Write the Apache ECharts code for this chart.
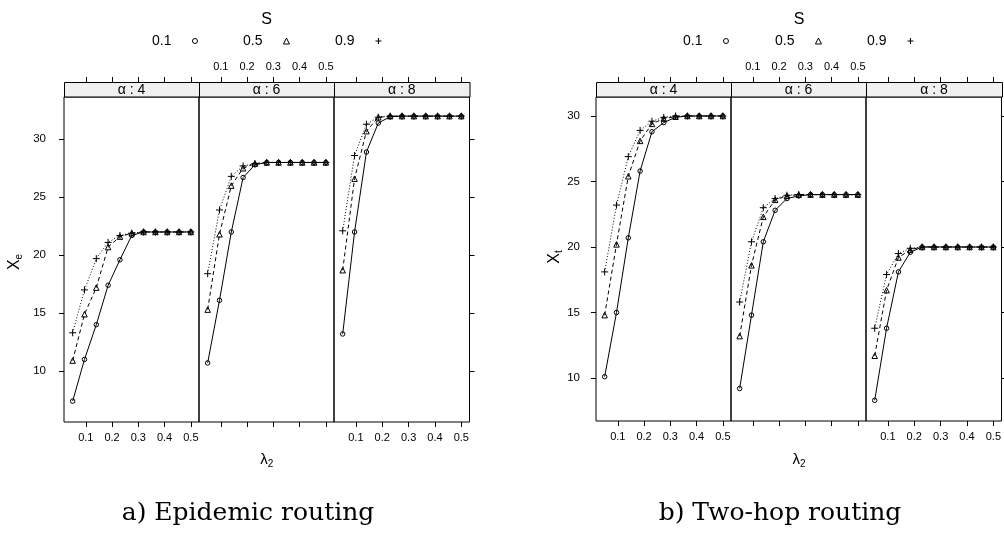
<!DOCTYPE html>
<html><head><meta charset="utf-8">
<script src="https://cdn.jsdelivr.net/npm/echarts@6/dist/echarts.min.js"></script>
<style>html,body{margin:0;padding:0;background:#fff}#c{width:1004px;height:534px}</style>
</head><body><div id="c"></div>
<script>
// ---- data ----
const xVals = [0.05, 0.095, 0.14, 0.185, 0.23, 0.275, 0.32, 0.365, 0.41, 0.455, 0.5];
const alphaLabels = ['α : 4', 'α : 6', 'α : 8'];
const sLevels = ['0.1', '0.5', '0.9'];
const xTicks = [0.1, 0.2, 0.3, 0.4, 0.5];
const yTicks = [10, 15, 20, 25, 30];
const captions = ['a) Epidemic routing', 'b) Two-hop routing'];

// Epidemic routing (X_e)
const e4_s1 = [7.4, 11.0, 14.0, 17.4, 19.6, 21.7, 22.0, 22.0, 22.0, 22.0, 22.0];
const e4_s5 = [10.9, 14.9, 17.2, 20.7, 21.6, 21.9, 22.0, 22.0, 22.0, 22.0, 22.0];
const e4_s9 = [13.3, 17.0, 19.7, 21.1, 21.7, 21.9, 22.0, 22.0, 22.0, 22.0, 22.0];
const e6_s1 = [10.7, 16.1, 22.0, 26.7, 27.8, 28.0, 28.0, 28.0, 28.0, 28.0, 28.0];
const e6_s5 = [15.3, 21.8, 26.0, 27.5, 27.9, 28.0, 28.0, 28.0, 28.0, 28.0, 28.0];
const e6_s9 = [18.4, 23.9, 26.8, 27.7, 27.9, 28.0, 28.0, 28.0, 28.0, 28.0, 28.0];
const e8_s1 = [13.2, 22.0, 28.9, 31.4, 31.95, 32.0, 32.0, 32.0, 32.0, 32.0, 32.0];
const e8_s5 = [18.7, 26.6, 30.7, 31.9, 32.0, 32.0, 32.0, 32.0, 32.0, 32.0, 32.0];
const e8_s9 = [22.1, 28.6, 31.3, 31.9, 32.0, 32.0, 32.0, 32.0, 32.0, 32.0, 32.0];

// Two-hop routing (X_t)
const t4_s1 = [10.1, 15.0, 20.7, 25.8, 28.8, 29.5, 29.9, 30.0, 30.0, 30.0, 30.0];
const t4_s5 = [14.8, 20.2, 25.4, 28.1, 29.4, 29.8, 29.95, 30.0, 30.0, 30.0, 30.0];
const t4_s9 = [18.1, 23.2, 26.9, 28.9, 29.6, 29.9, 30.0, 30.0, 30.0, 30.0, 30.0];
const t6_s1 = [9.2, 14.8, 20.4, 22.8, 23.7, 23.9, 24.0, 24.0, 24.0, 24.0, 24.0];
const t6_s5 = [13.2, 18.6, 22.3, 23.6, 23.9, 24.0, 24.0, 24.0, 24.0, 24.0, 24.0];
const t6_s9 = [15.8, 20.4, 23.0, 23.7, 23.95, 24.0, 24.0, 24.0, 24.0, 24.0, 24.0];
const t8_s1 = [8.3, 13.8, 18.1, 19.6, 20.0, 20.0, 20.0, 20.0, 20.0, 20.0, 20.0];
const t8_s5 = [11.7, 16.7, 19.2, 19.8, 20.0, 20.0, 20.0, 20.0, 20.0, 20.0, 20.0];
const t8_s9 = [13.8, 17.9, 19.5, 19.9, 20.0, 20.0, 20.0, 20.0, 20.0, 20.0, 20.0];

// ---- layout ----
const FONT = 'Liberation Sans';
const X_MIN = 0.017, X_MAX = 0.531;
const charts = [
  { panels: [[e4_s1, e4_s5, e4_s9], [e6_s1, e6_s5, e6_s9], [e8_s1, e8_s5, e8_s9]],
    lefts: [64, 199, 334], widths: [135, 135, 135.5], top: 97, height: 325,
    yMin: 5.6, yMax: 33.65, yName: 'e', yNameX: 15, yNameY: 262, labelMargin: 18,
    legendX: [152, 243, 335], legendTop: 34, sX: 266.5, captionX: 248 },
  { panels: [[t4_s1, t4_s5, t4_s9], [t6_s1, t6_s5, t6_s9], [t8_s1, t8_s5, t8_s9]],
    lefts: [596, 731, 866], widths: [135, 135, 136], top: 97, height: 324,
    yMin: 6.72, yMax: 31.45, yName: 't', yNameX: 555, yNameY: 257, labelMargin: 16,
    legendX: [683, 775, 867], legendTop: 34, sX: 799, captionX: 780 }
];
const seriesStyles = [
  { symbol: 'circle', symbolSize: 4.5, dash: 'solid' },
  { symbol: 'triangle', symbolSize: 5.5, dash: [4, 3] },
  { symbol: 'path://M5,0L5,10M0,5L10,5', symbolSize: 7, dash: [1, 2] }
];
const legendIcons = [
  { icon: 'circle', size: 5 },
  { icon: 'triangle', size: 6 },
  { icon: 'path://M5,0L5,10M0,5L10,5', size: 6 }
];

const grid = [], xAxis = [], yAxis = [], series = [], graphic = [], legend = [];
charts.forEach((ch, ci) => {
  ch.panels.forEach((panel, p) => {
    const g = grid.length;
    grid.push({ left: ch.lefts[p], top: ch.top, width: ch.widths[p], height: ch.height,
      show: true, borderColor: '#000', borderWidth: 1, backgroundColor: 'transparent' });
    const tickStyle = { show: true, length: 5, inside: false, customValues: xTicks, lineStyle: { color: '#000', width: 1 } };
    xAxis.push({ gridIndex: g, type: 'value', min: X_MIN, max: X_MAX, position: 'bottom',
      axisLine: { show: false }, splitLine: { show: false }, axisTick: tickStyle,
      axisLabel: { show: p !== 1, customValues: xTicks, fontSize: 11, fontFamily: FONT, color: '#000', margin: 10,
        formatter: v => v.toFixed(1) } });
    xAxis.push({ gridIndex: g, type: 'value', min: X_MIN, max: X_MAX, position: 'top', offset: 15,
      axisLine: { show: false }, splitLine: { show: false }, axisTick: tickStyle,
      axisLabel: { show: p === 1, customValues: xTicks, fontSize: 11, fontFamily: FONT, color: '#000', margin: 10,
        formatter: v => v.toFixed(1) } });
    yAxis.push({ gridIndex: g, type: 'value', min: ch.yMin, max: ch.yMax, position: p === 2 ? 'right' : 'left',
      axisLine: { show: false }, splitLine: { show: false },
      axisTick: { show: p !== 1, length: 5, customValues: yTicks, lineStyle: { color: '#000', width: 1 } },
      axisLabel: { show: p === 0, customValues: yTicks, fontSize: 11.5, fontFamily: FONT, color: '#000', margin: ch.labelMargin } });
    panel.forEach((vals, k) => {
      const st = seriesStyles[k];
      series.push({ type: 'line', name: sLevels[k], xAxisIndex: 2 * g, yAxisIndex: g,
        data: xVals.map((x, i) => [x, vals[i]]),
        symbol: st.symbol, symbolSize: st.symbolSize, showAllSymbol: true,
        lineStyle: { color: '#000', width: 1, type: st.dash },
        itemStyle: { color: 'rgba(0,0,0,0)', borderColor: '#000', borderWidth: 1 },
        z: 2 + k, silent: true, animation: false });
    });
    // strip
    graphic.push({ type: 'rect', shape: { x: ch.lefts[p] + 0.5, y: 82.5, width: ch.widths[p], height: 14.5 },
      style: { fill: '#f0f0f0', stroke: '#000', lineWidth: 1 }, z: 10 });
    graphic.push({ type: 'text', x: ch.lefts[p] + ch.widths[p] / 2, y: 90,
      style: { text: alphaLabels[p], font: '14px "' + FONT + '"', fill: '#000', textAlign: 'center', textVerticalAlign: 'middle' }, z: 11 });
  });
  // legends
  sLevels.forEach((s, k) => {
    legend.push({ left: ch.legendX[k], top: ch.legendTop, padding: 0, align: 'right', selectedMode: false,
      itemWidth: legendIcons[k].size, itemHeight: legendIcons[k].size,
      textStyle: { fontSize: 14, fontFamily: FONT, color: '#000', padding: [0, 16, 0, 0] },
      data: [{ name: s, icon: legendIcons[k].icon,
        itemStyle: { color: 'rgba(0,0,0,0)', borderColor: '#000', borderWidth: 1 } }] });
  });
  const midX = (ch.lefts[0] + ch.lefts[2] + ch.widths[2]) / 2;
  graphic.push({ type: 'text', x: ch.sX, y: 20,
    style: { text: 'S', font: '16px "' + FONT + '"', fill: '#000', textAlign: 'center', textVerticalAlign: 'middle' } });
  graphic.push({ type: 'text', x: midX, y: 460,
    style: { text: '{a|λ}{b|2}', rich: { a: { fontSize: 15, fontFamily: FONT }, b: { fontSize: 10, fontFamily: FONT, padding: [8, 0, 0, 0] } },
      fill: '#000', textAlign: 'center', textVerticalAlign: 'middle' } });
  graphic.push({ type: 'text', x: ch.yNameX, y: ch.yNameY, rotation: Math.PI / 2,
    style: { text: '{a|X}{b|' + ch.yName + '}', rich: { a: { fontSize: 16, fontFamily: FONT }, b: { fontSize: 10, fontFamily: FONT, padding: [8, 0, 0, 0] } },
      fill: '#000', textAlign: 'center', textVerticalAlign: 'middle' } });
  graphic.push({ type: 'text', x: ch.captionX, y: 513,
    style: { text: captions[ci], font: '25px "DejaVu Serif"', fill: '#000', textAlign: 'center', textVerticalAlign: 'middle' } });
});

const chart = echarts.init(document.getElementById('c'), null, { renderer: 'canvas' });
chart.setOption({
  animation: false, backgroundColor: '#fff',
  textStyle: { fontFamily: FONT },
  grid, xAxis, yAxis, series, legend, graphic
});
</script></body></html>
